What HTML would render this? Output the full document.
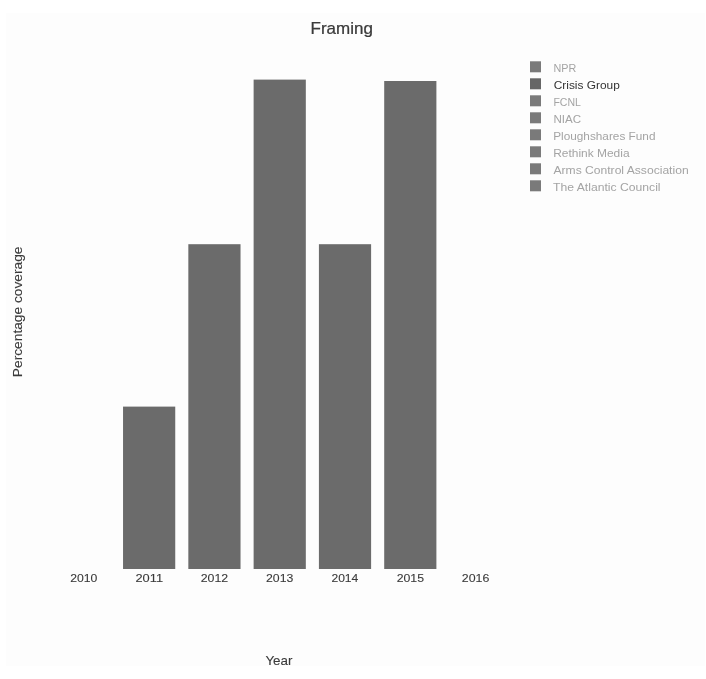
<!DOCTYPE html>
<html><head><meta charset="utf-8"><style>
html,body{margin:0;padding:0;background:#ffffff;overflow:hidden;}
svg{display:block;will-change:transform;}
text{font-family:"Liberation Sans",sans-serif;}
</style></head><body>
<svg width="706" height="679" viewBox="0 0 706 679">
<rect x="0" y="0" width="706" height="679" fill="#ffffff"/>
<rect x="6" y="13" width="699" height="653" fill="#fdfdfd"/>
<rect x="123.04" y="406.6" width="52.2" height="162.4" fill="#6b6b6b"/>
<rect x="188.33" y="244.2" width="52.2" height="324.8" fill="#6b6b6b"/>
<rect x="253.62" y="79.6" width="52.2" height="489.4" fill="#6b6b6b"/>
<rect x="318.91" y="244.2" width="52.2" height="324.8" fill="#6b6b6b"/>
<rect x="384.20" y="81.0" width="52.2" height="488.0" fill="#6b6b6b"/>
<rect x="530" y="61.30" width="11" height="11" fill="#7a7a7a"/>
<rect x="530" y="78.30" width="11" height="11" fill="#666666"/>
<rect x="530" y="95.30" width="11" height="11" fill="#7a7a7a"/>
<rect x="530" y="112.30" width="11" height="11" fill="#7a7a7a"/>
<rect x="530" y="129.30" width="11" height="11" fill="#7a7a7a"/>
<rect x="530" y="146.30" width="11" height="11" fill="#7a7a7a"/>
<rect x="530" y="163.30" width="11" height="11" fill="#7a7a7a"/>
<rect x="530" y="180.30" width="11" height="11" fill="#7a7a7a"/>
<text transform="translate(310.564,33.700) scale(1.0754,1)" style="font-size:15.800px;fill:#3a3a3a;stroke:#3a3a3a;stroke-width:0.25px">Framing</text>
<text transform="translate(553.400,72.200) scale(0.9314,1)" style="font-size:11.600px;fill:#a4a4a4;stroke:#a4a4a4;stroke-width:0.0px">NPR</text>
<text transform="translate(553.709,89.200) scale(1.0266,1)" style="font-size:11.600px;fill:#333333;stroke:#333333;stroke-width:0.0px">Crisis Group</text>
<text transform="translate(553.437,106.200) scale(0.9081,1)" style="font-size:11.600px;fill:#a4a4a4;stroke:#a4a4a4;stroke-width:0.0px">FCNL</text>
<text transform="translate(553.429,123.200) scale(0.9999,1)" style="font-size:11.600px;fill:#a4a4a4;stroke:#a4a4a4;stroke-width:0.0px">NIAC</text>
<text transform="translate(553.182,140.200) scale(1.0187,1)" style="font-size:11.600px;fill:#a4a4a4;stroke:#a4a4a4;stroke-width:0.0px">Ploughshares Fund</text>
<text transform="translate(553.166,157.200) scale(1.0322,1)" style="font-size:11.600px;fill:#a4a4a4;stroke:#a4a4a4;stroke-width:0.0px">Rethink Media</text>
<text transform="translate(553.473,174.200) scale(1.0443,1)" style="font-size:11.600px;fill:#a4a4a4;stroke:#a4a4a4;stroke-width:0.0px">Arms Control Association</text>
<text transform="translate(553.065,191.200) scale(1.0501,1)" style="font-size:11.600px;fill:#a4a4a4;stroke:#a4a4a4;stroke-width:0.0px">The Atlantic Council</text>
<text transform="translate(70.232,581.900) scale(1.0679,1)" style="font-size:11.453px;fill:#3a3a3a;stroke:#3a3a3a;stroke-width:0.1px">2010</text>
<text transform="translate(135.463,581.900) scale(1.1208,1)" style="font-size:11.453px;fill:#3a3a3a;stroke:#3a3a3a;stroke-width:0.1px">2011</text>
<text transform="translate(200.712,581.900) scale(1.0796,1)" style="font-size:11.453px;fill:#3a3a3a;stroke:#3a3a3a;stroke-width:0.1px">2012</text>
<text transform="translate(266.026,581.900) scale(1.0719,1)" style="font-size:11.453px;fill:#3a3a3a;stroke:#3a3a3a;stroke-width:0.1px">2013</text>
<text transform="translate(331.414,581.900) scale(1.0579,1)" style="font-size:11.453px;fill:#3a3a3a;stroke:#3a3a3a;stroke-width:0.1px">2014</text>
<text transform="translate(396.687,581.900) scale(1.0745,1)" style="font-size:11.453px;fill:#3a3a3a;stroke:#3a3a3a;stroke-width:0.1px">2015</text>
<text transform="translate(461.763,581.900) scale(1.0810,1)" style="font-size:11.453px;fill:#3a3a3a;stroke:#3a3a3a;stroke-width:0.1px">2016</text>
<text transform="translate(265.388,664.800) scale(1.0574,1)" style="font-size:12.709px;fill:#3a3a3a;stroke:#3a3a3a;stroke-width:0.1px">Year</text>
<text transform="translate(21.800,377.131) rotate(-90) scale(1.1454,1)" style="font-size:12.000px;fill:#3a3a3a;stroke:#3a3a3a;stroke-width:0.1px">Percentage coverage</text>
</svg>
</body></html>
